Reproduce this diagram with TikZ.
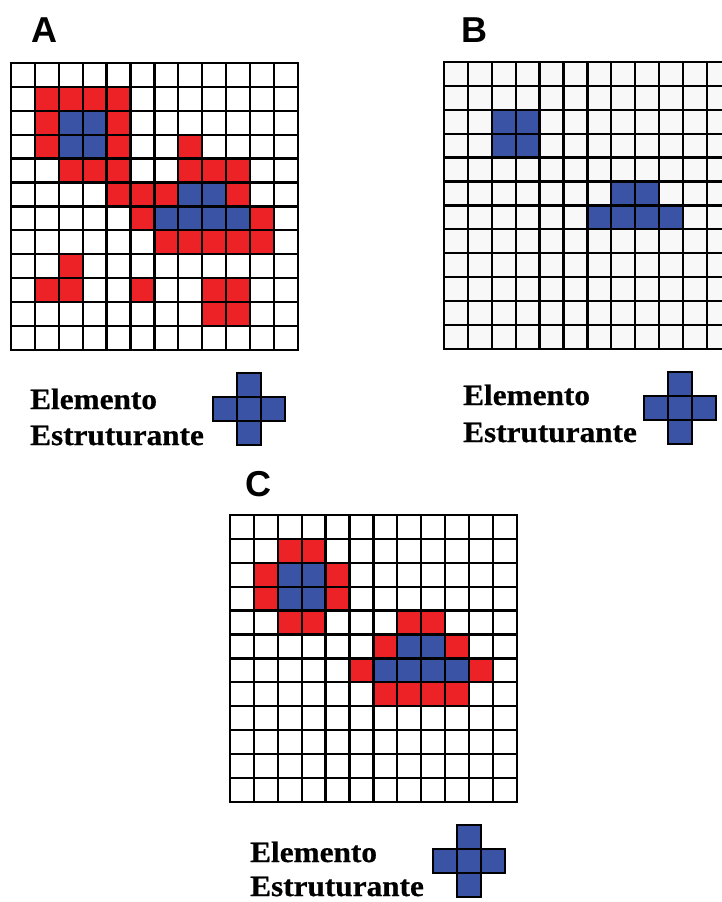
\documentclass[tikz,border=0pt]{standalone}
\usepackage{fontspec}
\setmainfont{Liberation Serif}
\newfontfamily\selabelfont[FakeStretch=1.06,FakeBold=0.6]{Liberation Serif}
\newfontfamily\panelfont{Liberation Sans}
\usepackage{tikz}
\usetikzlibrary{positioning}
\definecolor{cellred}{HTML}{EC2227}
\definecolor{cellblue}{HTML}{3A53A4}
\definecolor{cellgray}{HTML}{F8F8F8}

\begin{document}
\begin{tikzpicture}[x=1pt, y=-1pt,
  gridline/.style={draw=black, line width=2.3pt, line cap=rect},
  redcell/.style={fill=cellred},
  bluecell/.style={fill=cellblue},
  secell/.style={draw=black, line width=2.3pt, fill=cellblue},
  panel/.style={font=\panelfont\fontsize{36}{40}\selectfont\bfseries, inner sep=0pt},
  selabel/.style={font=\selabelfont\fontsize{29.5}{35}\selectfont\bfseries, inner sep=0pt, anchor=base west}
]
  \clip (0,0) rectangle (722,902);
  \fill[white] (0,0) rectangle (722,902);

  % panel A: input image
  \node[panel] (labA) at (44,30) {A};
  \begin{scope}[shift={(11,63)}]
    \foreach \c/\r in {1/1,2/1,3/1,4/1,1/2,4/2,1/3,4/3,7/3,2/4,3/4,4/4,7/4,8/4,9/4,
        4/5,5/5,6/5,9/5,5/6,10/6,6/7,7/7,8/7,9/7,10/7,2/8,1/9,2/9,5/9,8/9,9/9,8/10,9/10}
      \fill[redcell] (\c*23.9,\r*23.9) rectangle ++(23.9,23.9);
    \foreach \c/\r in {2/2,3/2,2/3,3/3,7/5,8/5,6/6,7/6,8/6,9/6}
      \fill[bluecell] (\c*23.9,\r*23.9) rectangle ++(23.9,23.9);
    \foreach \k in {0,...,12} {
      \draw[gridline] (\k*23.9,0) -- (\k*23.9,286.8);
      \draw[gridline] (0,\k*23.9) -- (286.8,\k*23.9);
    }
  \end{scope}
  \node[selabel] (elemA) at (30,409) {Elemento};
  \node[selabel] (estA) at (30,445) {Estruturante};
  \begin{scope}[shift={(237,397)}]
    \foreach \dx/\dy in {0/0,-1/0,1/0,0/-1,0/1}
      \draw[secell] (\dx*24,\dy*24) rectangle ++(24,24);
  \end{scope}

  % panel B: erosion
  \node[panel] (labB) at (474,30) {B};
  \begin{scope}[shift={(444,62)}]
    \fill[cellgray] (0,0) rectangle (286.8,286.8);
    \foreach \c/\r in {2/2,3/2,2/3,3/3,7/5,8/5,6/6,7/6,8/6,9/6}
      \fill[bluecell] (\c*23.9,\r*23.9) rectangle ++(23.9,23.9);
    \foreach \k in {0,...,12} {
      \draw[gridline] (\k*23.9,0) -- (\k*23.9,286.8);
      \draw[gridline] (0,\k*23.9) -- (286.8,\k*23.9);
    }
  \end{scope}
  \node[selabel] (elemB) at (463,405) {Elemento};
  \node[selabel] (estB) at (463,442) {Estruturante};
  \begin{scope}[shift={(668,396)}]
    \foreach \dx/\dy in {0/0,-1/0,1/0,0/-1,0/1}
      \draw[secell] (\dx*24,\dy*24) rectangle ++(24,24);
  \end{scope}

  % panel C: dilation of B
  \node[panel] (labC) at (258,484) {C};
  \begin{scope}[shift={(230,515)}]
    \foreach \c/\r in {2/1,3/1,1/2,4/2,1/3,4/3,2/4,3/4,7/4,8/4,6/5,9/5,5/6,10/6,6/7,7/7,8/7,9/7}
      \fill[redcell] (\c*23.9,\r*23.9) rectangle ++(23.9,23.9);
    \foreach \c/\r in {2/2,3/2,2/3,3/3,7/5,8/5,6/6,7/6,8/6,9/6}
      \fill[bluecell] (\c*23.9,\r*23.9) rectangle ++(23.9,23.9);
    \foreach \k in {0,...,12} {
      \draw[gridline] (\k*23.9,0) -- (\k*23.9,286.8);
      \draw[gridline] (0,\k*23.9) -- (286.8,\k*23.9);
    }
  \end{scope}
  \node[selabel] (elemC) at (250,862) {Elemento};
  \node[selabel] (estC) at (250,896) {Estruturante};
  \begin{scope}[shift={(457,849)}]
    \foreach \dx/\dy in {0/0,-1/0,1/0,0/-1,0/1}
      \draw[secell] (\dx*24,\dy*24) rectangle ++(24,24);
  \end{scope}
\end{tikzpicture}
\end{document}
